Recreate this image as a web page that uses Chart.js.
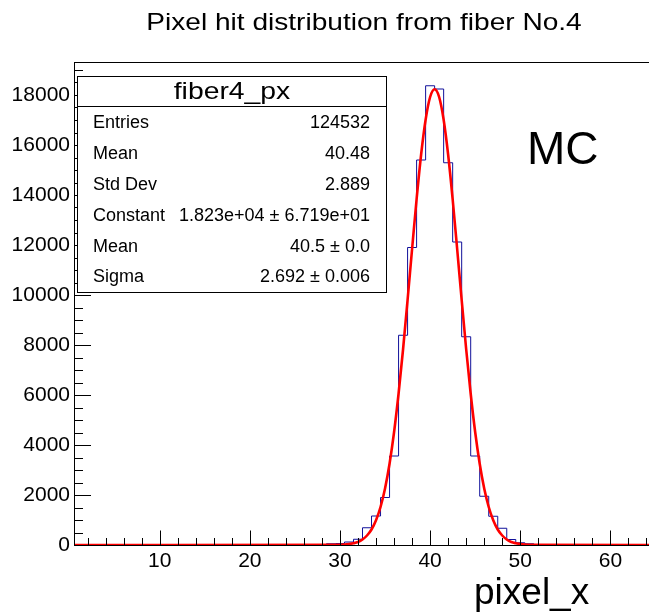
<!DOCTYPE html>
<html>
<head>
<meta charset="utf-8">
<title>fiber4_px</title>
<script src="https://cdn.jsdelivr.net/npm/chart.js@4/dist/chart.umd.min.js"></script>
<style>
    html, body { margin: 0; padding: 0; background: #fff; overflow: hidden; }
    canvas { display: block; }
</style>
</head>
<body>
<canvas id="hist" width="660" height="614"></canvas>
<script>
// Histogram range and bin contents (64 bins of width 1, centred on 1..64)
const xRange = [0.5, 64.5];
const yRange = [0, 19320];
const binCounts = [
    0, 0, 0, 0, 0, 0, 0, 0, 0, 0,
    0, 0, 0, 0, 0, 0, 0, 0, 0, 0,
    0, 0, 0, 0, 0, 0, 0, 0, 50, 60,
    120, 230, 690, 1160, 1900, 3560, 8390, 11900, 15400, 18370,
    18240, 15290, 12120, 8330, 3560, 1950, 1150, 670, 220, 90,
    50, 10, 0, 0, 0, 0, 0, 0, 0, 0,
    0, 0, 0, 0
];

// Gaussian fit curve, sampled
const fitX = [0.5, 29.5, 30, 30.5, 31, 31.5, 32, 32.5, 33, 33.5, 34, 34.5, 35, 35.5, 36, 36.5, 37, 37.5, 38, 38.5, 39, 39.5, 40,
    40.5, 41, 41.5, 42, 42.5, 43, 43.5, 44, 44.5, 45, 45.5, 46, 46.5, 47, 47.5, 48, 48.5, 49, 49.5, 50, 50.5, 51, 51.5, 64.5];
const fitY = [0, 4, 10, 20, 40, 70, 120, 220, 380, 620, 990, 1520, 2260, 3250, 4510, 6050, 7830, 9800, 11840, 13830, 15610, 17010, 17920,
    18230, 17920, 17010, 15610, 13830, 11840, 9800, 7830, 6050, 4510, 3250, 2260, 1520, 990, 620, 380, 220, 120, 70, 40, 20, 10, 4, 0];

const xTickLabels = [10, 20, 30, 40, 50, 60];
const yTickLabels = [0, 2000, 4000, 6000, 8000, 10000, 12000, 14000, 16000, 18000];

const histTitle = 'Pixel hit distribution from fiber No.4';
const statsTitle = 'fiber4_px';
const statNames = ['Entries', 'Mean', 'Std Dev', 'Constant', 'Mean', 'Sigma'];
const statValues = ['124532', '40.48', '2.889', '1.823e+04 \u00b1 6.719e+01', '40.5 \u00b1 0.0', '2.692 \u00b1 0.006'];

const FONT = '"Liberation Sans", Arial, Helvetica, sans-serif';
Chart.defaults.font.family = FONT;
Chart.defaults.color = '#000';

// bin low edges -> stepped outline
const histPoints = binCounts.map(function(c, i) {
    return { x: xRange[0] + i, y: c };
});
histPoints.push({ x: xRange[1], y: binCounts[binCounts.length - 1] });

const fitPoints = fitX.map(function(x, i) {
    return { x: x, y: fitY[i] };
});

// centred text drawn a little wider than the font's natural width
function wideText(ctx, text, x, y, stretch) {
    ctx.save();
    ctx.translate(x, y);
    ctx.scale(stretch, 1);
    ctx.textAlign = 'center';
    ctx.fillText(text, 0, 0);
    ctx.restore();
}

// ROOT style frame with inward ticks
const rootFrame = {
    id: 'rootFrame',
    afterDatasetsDraw(chart) {
        const ctx = chart.ctx;
        const a = chart.chartArea;
        const xs = chart.scales.x;
        const ys = chart.scales.y;
        ctx.save();
        ctx.strokeStyle = '#000';
        ctx.lineWidth = 1;
        ctx.beginPath();
        for (let v = 2; v <= xRange[1]; v += 2) {
            const px = Math.round(xs.getPixelForValue(v)) + 0.5;
            const len = v % 10 === 0 ? 14.5 : 7;
            ctx.moveTo(px, a.bottom);
            ctx.lineTo(px, a.bottom - len);
        }
        for (let v = 500; v <= yRange[1]; v += 500) {
            const py = Math.round(ys.getPixelForValue(v)) + 0.5;
            const len = v % 2000 === 0 ? 17 : 9;
            ctx.moveTo(a.left, py);
            ctx.lineTo(a.left + len, py);
        }
        ctx.stroke();
        ctx.strokeRect(Math.round(a.left) + 0.5, Math.round(a.top) + 0.5,
            Math.round(a.right - a.left), Math.round(a.bottom - a.top));
        ctx.restore();
    },
    afterDraw(chart) {
        const ctx = chart.ctx;
        ctx.save();
        ctx.fillStyle = '#000';
        ctx.textBaseline = 'middle';

        // title
        ctx.font = '24px ' + FONT;
        wideText(ctx, histTitle, 364, 23, 1.17);

        // stats box
        const bx = 77.5, by = 76.5, bw = 309, bh = 216;
        ctx.fillStyle = '#fff';
        ctx.fillRect(bx, by, bw, bh);
        ctx.strokeStyle = '#000';
        ctx.lineWidth = 1;
        ctx.strokeRect(bx, by, bw, bh);
        ctx.beginPath();
        ctx.moveTo(bx, 106.5);
        ctx.lineTo(bx + bw, 106.5);
        ctx.stroke();

        ctx.fillStyle = '#000';
        ctx.font = '24px ' + FONT;
        wideText(ctx, statsTitle, 232, 92, 1.18);
        ctx.font = '18px ' + FONT;
        statNames.forEach(function(name, i) {
            const y = 123.5 + i * 30.8;
            ctx.textAlign = 'left';
            ctx.fillText(name, 93, y);
            ctx.textAlign = 'right';
            ctx.fillText(statValues[i], 370, y);
        });

        // sample tag and axis title
        ctx.textAlign = 'left';
        ctx.textBaseline = 'alphabetic';
        ctx.font = '46px ' + FONT;
        ctx.fillText('MC', 527, 164);
        ctx.font = '37px ' + FONT;
        ctx.fillText('pixel_x', 474, 604);
        ctx.restore();
    }
};

new Chart(document.getElementById('hist'), {
    type: 'line',
    data: {
        datasets: [
            {
                label: 'gaus',
                data: fitPoints,
                borderColor: '#ff0000',
                borderWidth: 2.6,
                pointRadius: 0,
                cubicInterpolationMode: 'monotone',
                fill: false,
                order: 1
            },
            {
                label: statsTitle,
                data: histPoints,
                borderColor: '#10109a',
                borderWidth: 1,
                pointRadius: 0,
                stepped: 'before',
                fill: false,
                order: 2
            }
        ]
    },
    options: {
        responsive: false,
        animation: false,
        layout: { padding: { left: 0, right: 9, top: 62, bottom: 0 } },
        plugins: {
            legend: { display: false },
            tooltip: { enabled: false }
        },
        scales: {
            x: {
                type: 'linear',
                min: xRange[0],
                max: xRange[1],
                grid: { display: false, drawTicks: false },
                border: { display: false },
                afterBuildTicks(scale) {
                    scale.ticks = xTickLabels.map(function(v) { return { value: v }; });
                },
                afterFit(scale) { scale.height = 69; },
                ticks: {
                    padding: 4,
                    maxRotation: 0,
                    font: { size: 21 },
                    callback: function(v) { return String(v); }
                }
            },
            y: {
                type: 'linear',
                min: yRange[0],
                max: yRange[1],
                grid: { display: false, drawTicks: false },
                border: { display: false },
                afterBuildTicks(scale) {
                    scale.ticks = yTickLabels.map(function(v) { return { value: v }; });
                },
                afterFit(scale) { scale.width = 74; },
                ticks: {
                    padding: 4,
                    font: { size: 21 },
                    callback: function(v) { return String(v); }
                }
            }
        }
    },
    plugins: [rootFrame]
});
</script>
</body>
</html>
